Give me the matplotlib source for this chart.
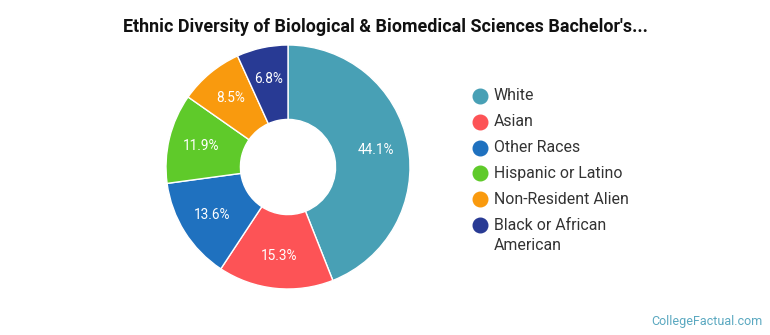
import matplotlib
matplotlib.use("Agg")
import matplotlib.pyplot as plt
import numpy as np

categories = ["White", "Asian", "Other Races", "Hispanic or Latino",
              "Non-Resident Alien", "Black or African\nAmerican"]
values = [44.1, 15.3, 13.6, 11.9, 8.5, 6.8]
colors = ["#48a0b5", "#fd5356", "#1f71bf", "#5fca2a", "#f99a0e", "#283a94"]
title = "Ethnic Diversity of Biological & Biomedical Sciences Bachelor's..."

plt.rcParams['font.family'] = ['Roboto', 'DejaVu Sans']

fig = plt.figure(figsize=(7.7, 3.35), dpi=100)
W, H = 770, 335
cx, cy, R = 288, 167, 122
ax = fig.add_axes([(cx - R) / W, 1 - (cy + R) / H, 2 * R / W, 2 * R / H])
wedges, _ = ax.pie(values, colors=colors, startangle=90, counterclock=False,
                   radius=1.0, wedgeprops=dict(width=0.61, edgecolor="white", linewidth=1))
ax.set_xlim(-1, 1)
ax.set_ylim(-1, 1)
ax.set_aspect("equal")
ax.axis("off")

total = sum(values)
start = 90.0
for v in values:
    mid = start - v / total * 360 / 2
    start -= v / total * 360
    r = 0.735
    ax.text(r * np.cos(np.radians(mid)), r * np.sin(np.radians(mid)), f"{v:.1f}%",
            ha="center", va="center", color="white", fontsize=9.8)

fig.text(385 / W, 1 - 27 / H, title, ha="center", va="center",
         fontsize=12.9, fontweight="bold", color="#111111")

# legend drawn manually
lax = fig.add_axes([0, 0, 1, 1])
lax.set_xlim(0, W)
lax.set_ylim(H, 0)
lax.axis("off")
y = 96
for c, lab in zip(colors, categories):
    lax.plot([480], [y], marker="o", markersize=10.5, color=c, linestyle="none")
    lines = lab.split("\n")
    for i, ln in enumerate(lines):
        lax.text(494, y + i * 20.5, ln, ha="left", va="center",
                 fontsize=11.4, color="#333333")
    y += 25.8

fig.text(763 / W, 1 - 321 / H, "CollegeFactual.com", ha="right", va="center",
         fontsize=9, color="#5aa8c0")

fig.savefig("out.png", dpi=100)
